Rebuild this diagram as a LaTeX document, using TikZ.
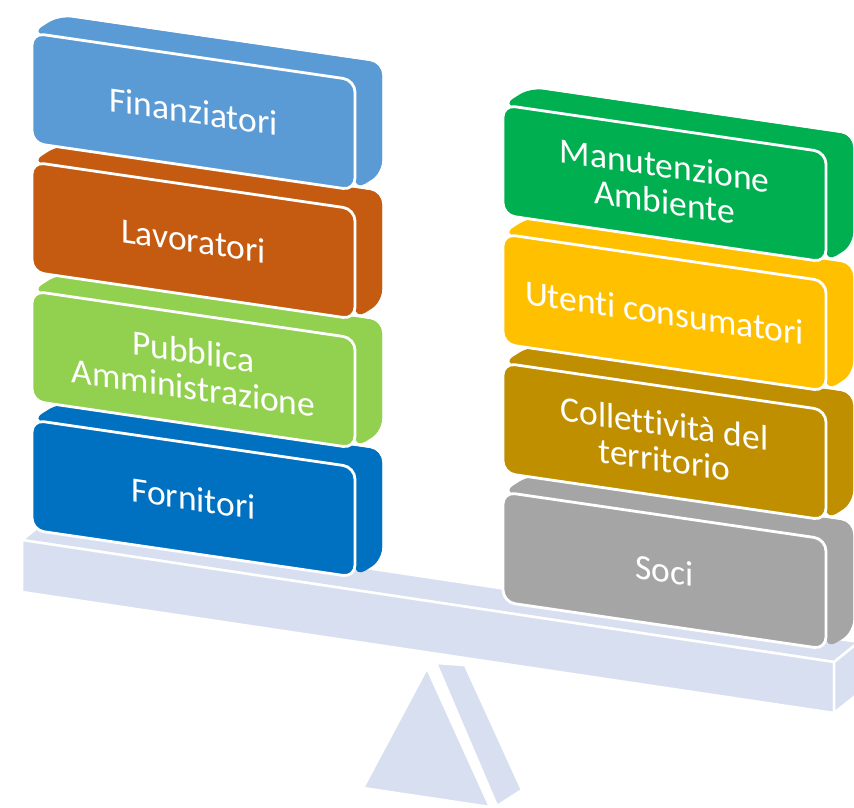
\documentclass[tikz,border=0pt]{standalone}
\usepackage{fontspec}
\setmainfont{Carlito}[Ligatures=NoCommon]
\definecolor{finanz}{HTML}{5B9BD5}
\definecolor{lavor}{HTML}{C55A11}
\definecolor{pubbl}{HTML}{92D050}
\definecolor{fornit}{HTML}{0070C0}
\definecolor{manut}{HTML}{00B050}
\definecolor{utenti}{HTML}{FFC000}
\definecolor{collet}{HTML}{BF8F00}
\definecolor{soci}{HTML}{A5A5A5}
\definecolor{bilancia}{HTML}{D7DFF0}
\begin{document}
\begin{tikzpicture}[x=1pt,y=-1pt,
    retro/.style={rounded corners=12pt},
    fronte/.style={draw=white,line width=2.8pt,rounded corners=12pt},
    testo/.style={text=white,align=center,transform shape,font=\fontsize{35.5}{36}\selectfont},
    asse/.style={fill=bilancia,draw=white,line width=2.5pt,line join=round}]
  \useasboundingbox (0,0) rectangle (854,808);
  \clip (0,0) rectangle (854,808);
  \filldraw[asse] (427,668) -- (363,788) -- (490,807) -- cycle;
  \filldraw[asse] (436,663) -- (465,665) -- (522,790) -- (497,806) -- cycle;
  \filldraw[asse] (22,540) -- (47,520) -- (859,642) -- (834,662) -- cycle;
  \filldraw[asse] (22,540) -- (834,662) -- (834,713) -- (22,592) -- cycle;
  \filldraw[asse] (834,662) -- (859,642) -- (859,693) -- (834,713) -- cycle;
  \begin{scope}[shift={(32,420)},yslant=-0.146]
    \fill[retro,fornit] (27,-21) rectangle (350,89);
    \fill[retro,fornit] (0,0) -- (27,-21) -- (350,-21) -- (350,89) -- (323,110) -- (323,0) -- cycle;
    \filldraw[fronte,fill=fornit] (0,0) rectangle (323,110);
    \node[testo] (fornitori) at (161.5,55) {Fornitori};
  \end{scope}
  \begin{scope}[shift={(32,291)},yslant=-0.146]
    \fill[retro,pubbl] (27,-21) rectangle (350,89);
    \fill[retro,pubbl] (0,0) -- (27,-21) -- (350,-21) -- (350,89) -- (323,110) -- (323,0) -- cycle;
    \filldraw[fronte,fill=pubbl] (0,0) rectangle (323,110);
    \node[testo] (pubblica) at (161.5,55) {Pubblica\\Amministrazione};
  \end{scope}
  \begin{scope}[shift={(32,162)},yslant=-0.146]
    \fill[retro,lavor] (27,-21) rectangle (350,89);
    \fill[retro,lavor] (0,0) -- (27,-21) -- (350,-21) -- (350,89) -- (323,110) -- (323,0) -- cycle;
    \filldraw[fronte,fill=lavor] (0,0) rectangle (323,110);
    \node[testo] (lavoratori) at (161.5,55) {Lavoratori};
  \end{scope}
  \begin{scope}[shift={(32,33)},yslant=-0.146]
    \fill[retro,finanz] (27,-21) rectangle (350,89);
    \fill[retro,finanz] (0,0) -- (27,-21) -- (350,-21) -- (350,89) -- (323,110) -- (323,0) -- cycle;
    \filldraw[fronte,fill=finanz] (0,0) rectangle (323,110);
    \node[testo] (finanziatori) at (161.5,55) {Finanziatori};
  \end{scope}
  \begin{scope}[shift={(503,492)},yslant=-0.146]
    \fill[retro,soci] (27,-21) rectangle (350,89);
    \fill[retro,soci] (0,0) -- (27,-21) -- (350,-21) -- (350,89) -- (323,110) -- (323,0) -- cycle;
    \filldraw[fronte,fill=soci] (0,0) rectangle (323,110);
    \node[testo] (soci) at (161.5,55) {Soci};
  \end{scope}
  \begin{scope}[shift={(503,363)},yslant=-0.146]
    \fill[retro,collet] (27,-21) rectangle (350,89);
    \fill[retro,collet] (0,0) -- (27,-21) -- (350,-21) -- (350,89) -- (323,110) -- (323,0) -- cycle;
    \filldraw[fronte,fill=collet] (0,0) rectangle (323,110);
    \node[testo] (collettivita) at (161.5,55) {Collettività del\\territorio};
  \end{scope}
  \begin{scope}[shift={(503,234)},yslant=-0.146]
    \fill[retro,utenti] (27,-21) rectangle (350,89);
    \fill[retro,utenti] (0,0) -- (27,-21) -- (350,-21) -- (350,89) -- (323,110) -- (323,0) -- cycle;
    \filldraw[fronte,fill=utenti] (0,0) rectangle (323,110);
    \node[testo] (utenti) at (161.5,55) {Utenti consumatori};
  \end{scope}
  \begin{scope}[shift={(503,105)},yslant=-0.146]
    \fill[retro,manut] (27,-21) rectangle (350,89);
    \fill[retro,manut] (0,0) -- (27,-21) -- (350,-21) -- (350,89) -- (323,110) -- (323,0) -- cycle;
    \filldraw[fronte,fill=manut] (0,0) rectangle (323,110);
    \node[testo] (manutenzione) at (161.5,55) {Manutenzione\\Ambiente};
  \end{scope}
\end{tikzpicture}
\end{document}
